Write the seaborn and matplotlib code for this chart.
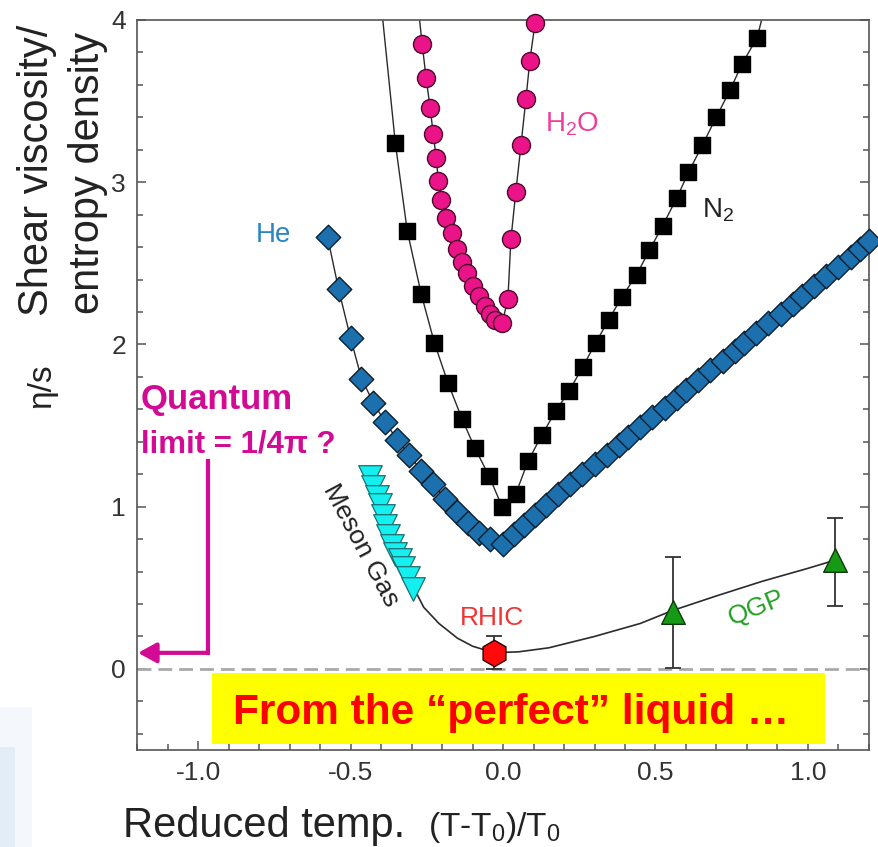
import matplotlib
matplotlib.use("Agg")
import matplotlib.pyplot as plt
from matplotlib.patches import Rectangle
from matplotlib.ticker import MultipleLocator, FormatStrFormatter
import seaborn as sns

# ---------------- data ----------------
# He (blue diamonds)
he_x = [-0.575, -0.539, -0.500, -0.464, -0.425, -0.386, -0.346, -0.307, -0.268, -0.229,
        -0.190, -0.150, -0.114, -0.078, -0.042, 0.0,
        0.035, 0.07, 0.105, 0.14, 0.18, 0.22, 0.26, 0.30, 0.34, 0.38,
        0.41, 0.45, 0.49, 0.53, 0.57, 0.60, 0.64, 0.68, 0.72, 0.76,
        0.79, 0.83, 0.87, 0.91, 0.95, 0.98, 1.02, 1.06, 1.10, 1.14, 1.17, 1.20]
he_y = [2.66, 2.34, 2.04, 1.79, 1.64, 1.52, 1.41, 1.32, 1.22, 1.14,
        1.05, 0.97, 0.90, 0.84, 0.80, 0.77,
        0.83, 0.89, 0.95, 1.01, 1.08, 1.14, 1.20, 1.26, 1.32, 1.38,
        1.43, 1.49, 1.55, 1.61, 1.67, 1.72, 1.78, 1.84, 1.90, 1.96,
        2.01, 2.07, 2.13, 2.19, 2.25, 2.30, 2.36, 2.42, 2.48, 2.54, 2.59, 2.64]

# N2 (black squares)
n2_x = [-0.353, -0.314, -0.268, -0.225, -0.180, -0.134, -0.092, -0.046, -0.003,
        0.042, 0.082, 0.127, 0.173, 0.216, 0.261, 0.304, 0.346, 0.389, 0.438,
        0.480, 0.523, 0.569, 0.608, 0.654, 0.699, 0.745, 0.784, 0.833]
n2_y = [3.24, 2.70, 2.31, 2.01, 1.76, 1.54, 1.36, 1.19, 1.00,
        1.08, 1.28, 1.44, 1.59, 1.71, 1.86, 2.01, 2.15, 2.29, 2.43,
        2.58, 2.73, 2.90, 3.06, 3.23, 3.40, 3.57, 3.73, 3.89]
n2_ends_x = [-0.405, 0.875]   # where the fitted line leaves the frame

# H2O (pink circles)
h2o_x = [-0.265, -0.252, -0.239, -0.229, -0.219, -0.212, -0.203, -0.186, -0.167, -0.150,
         -0.134, -0.118, -0.098, -0.078, -0.059, -0.042, -0.026, -0.003,
         0.016, 0.026, 0.042, 0.059, 0.075, 0.088, 0.105]
h2o_y = [3.85, 3.64, 3.46, 3.30, 3.15, 3.01, 2.89, 2.78, 2.69, 2.59,
         2.51, 2.44, 2.36, 2.30, 2.24, 2.19, 2.15, 2.13,
         2.28, 2.65, 2.94, 3.23, 3.51, 3.75, 3.98]
h2o_ends_x = [-0.285, 0.11]

# meson gas (cyan triangles)
meson_x = [-0.435, -0.425, -0.412, -0.402, -0.392, -0.386, -0.376, -0.363, -0.353,
           -0.337, -0.327, -0.310, -0.294]
meson_y = [1.18, 1.12, 1.06, 1.01, 0.94, 0.88, 0.82, 0.76, 0.71, 0.67, 0.62, 0.56, 0.49]

# RHIC point and QGP points with error bars
rhic_x = [-0.029]
rhic_y = [0.10]
rhic_err = [0.10]
qgp_x = [0.556, 1.088]
qgp_y = [0.35, 0.67]
qgp_lo = [0.345, 0.28]
qgp_hi = [0.34, 0.26]

# curve through meson gas, RHIC and QGP
curve_x = [-0.435, -0.40, -0.36, -0.33, -0.29, -0.26, -0.21, -0.15, -0.10, -0.03,
           0.05, 0.15, 0.30, 0.45, 0.556, 0.70, 0.85, 1.00, 1.088]
curve_y = [1.18, 1.00, 0.78, 0.64, 0.49, 0.38, 0.28, 0.19, 0.14, 0.10,
           0.105, 0.13, 0.20, 0.28, 0.36, 0.45, 0.54, 0.62, 0.67]

x_ticks = [-1.0, -0.5, 0.0, 0.5, 1.0]
y_ticks = [0, 1, 2, 3, 4]

# ---------------- style ----------------
sns.set_theme(style="ticks")
plt.rcParams["font.family"] = ["Liberation Sans", "DejaVu Sans"]
plt.rcParams["mathtext.fontset"] = "custom"
plt.rcParams["mathtext.rm"] = "Liberation Sans"
plt.rcParams["mathtext.it"] = "Liberation Sans"
plt.rcParams["axes.unicode_minus"] = False

magenta = "#d20a94"
line_col = "#2b2b2b"
top_y = 4.2

fig = plt.figure(figsize=(8.79, 8.47), dpi=100)
fig.patch.set_facecolor("white")
ax = fig.add_axes([0.1559, 0.1145, 0.8327, 0.8619])

# faint slide decoration in the lower left corner
fig.patches.append(Rectangle((0, 0), 32 / 879, 140 / 847, transform=fig.transFigure,
                             facecolor="#f4f8fd", edgecolor="none", zorder=0))
fig.patches.append(Rectangle((0, 0), 15 / 879, 100 / 847, transform=fig.transFigure,
                             facecolor="#e3edf8", edgecolor="none", zorder=0))

# zero line
ax.axhline(0, color="#a9a9a9", lw=2, dashes=(5, 2.5), zorder=1)

# connecting lines
sns.lineplot(x=he_x, y=he_y, ax=ax, color=line_col, lw=1, estimator=None, sort=False, zorder=2)
sns.lineplot(x=[n2_ends_x[0]] + n2_x + [n2_ends_x[1]], y=[top_y] + n2_y + [top_y], ax=ax,
             color=line_col, lw=1, estimator=None, sort=False, zorder=2)
sns.lineplot(x=[h2o_ends_x[0]] + h2o_x + [h2o_ends_x[1]], y=[top_y] + h2o_y + [top_y], ax=ax,
             color=line_col, lw=1, estimator=None, sort=False, zorder=2)
sns.lineplot(x=curve_x, y=curve_y, ax=ax, color=line_col, lw=1.2, estimator=None, sort=False, zorder=2)

# markers
sns.scatterplot(x=he_x, y=he_y, ax=ax, marker="D", s=12.5 ** 2, color="#1b70ad",
                edgecolor="#0b1f2e", linewidth=1, zorder=4, clip_on=False)
sns.scatterplot(x=n2_x, y=n2_y, ax=ax, marker="s", s=11.5 ** 2, color="black",
                edgecolor="black", linewidth=1, zorder=4, clip_on=False)
sns.scatterplot(x=h2o_x, y=h2o_y, ax=ax, marker="o", s=13 ** 2, color="#ea1488",
                edgecolor="#4a0a2a", linewidth=1, zorder=4, clip_on=False)
sns.scatterplot(x=meson_x, y=meson_y, ax=ax, marker="v", s=17 ** 2, color="#14f0f0",
                edgecolor="#1d6f72", linewidth=0.9, zorder=4, clip_on=False)

ax.errorbar(rhic_x, rhic_y, yerr=rhic_err, fmt="none", ecolor="#333333", elinewidth=1.3,
            capsize=6, capthick=1.3, zorder=5)
ax.errorbar(qgp_x, qgp_y, yerr=[qgp_lo, qgp_hi], fmt="none", ecolor="#333333", elinewidth=1.3,
            capsize=6, capthick=1.3, zorder=5)
sns.scatterplot(x=rhic_x, y=rhic_y, ax=ax, marker="h", s=19 ** 2, color="#ff0a0a",
                edgecolor="#2a0000", linewidth=1, zorder=6, clip_on=False)
sns.scatterplot(x=qgp_x, y=qgp_y, ax=ax, marker="^", s=17 ** 2, color="#169a16",
                edgecolor="#0b3a0b", linewidth=1, zorder=6, clip_on=False)

# series labels
ax.text(-0.81, 2.63, "He", color="#2a85c2", fontsize=20, ha="left", va="baseline")
ax.text(0.137, 3.31, "H$_2$O", color="#ef3f9a", fontsize=20, ha="left", va="baseline")
ax.text(0.653, 2.78, "N$_2$", color="#222222", fontsize=20, ha="left", va="baseline")
ax.text(-0.141, 0.27, "RHIC", color="#f03434", fontsize=19, ha="left", va="baseline")
ax.text(0.83, 0.377, "QGP", color="#22a022", fontsize=19, ha="center", va="center",
        rotation=22, rotation_mode="anchor")
ax.text(-0.467, 0.76, "Meson Gas", color="#222222", fontsize=19, ha="center", va="center",
        rotation=-62, rotation_mode="anchor")

# quantum limit annotation
ax.text(-1.188, 1.605, "Quantum", color=magenta, fontsize=25, fontweight="bold",
        ha="left", va="baseline")
ax.text(-1.188, 1.333, "limit = 1/4\u03c0 ?", color=magenta, fontsize=22.5, fontweight="bold",
        ha="left", va="baseline")
ax.plot([-0.967, -0.967], [1.284, 0.099], color=magenta, lw=3, solid_capstyle="projecting",
        zorder=3)
ax.annotate("", xy=(-1.197, 0.099), xytext=(-0.967, 0.099), annotation_clip=False,
            arrowprops=dict(arrowstyle="-|>,head_length=0.55,head_width=0.3", mutation_scale=20,
                            color=magenta, lw=3, shrinkA=0, shrinkB=0), zorder=3)

# yellow banner
ax.add_patch(Rectangle((-0.954, -0.463), 2.01, 0.438, facecolor="#ffff00",
                       edgecolor="none", zorder=3))
ax.text(0.026, -0.34, "From the \u201cperfect\u201d liquid \u2026", color="#ff0000", fontsize=30.5,
        fontweight="bold", ha="center", va="baseline", zorder=4)

# axes
ax.set_xlim(-1.2, 1.2)
ax.set_ylim(-0.5, 4)
ax.set_xticks(x_ticks)
ax.set_yticks(y_ticks)
ax.xaxis.set_major_formatter(FormatStrFormatter("%.1f"))
ax.xaxis.set_minor_locator(MultipleLocator(0.1))
ax.yaxis.set_minor_locator(MultipleLocator(0.2))
ax.tick_params(which="both", direction="in", right=True, top=False, color="#555555",
               width=1.1)
ax.tick_params(which="major", length=6.5, labelsize=19, labelcolor="#333333", pad=8)
ax.tick_params(which="minor", length=4)
ax.set_xlabel("")
ax.set_ylabel("")
for side in ax.spines.values():
    side.set_color("#555555")
    side.set_linewidth(1.2)
ax.spines["top"].set_visible(True)
ax.spines["right"].set_visible(True)

# axis titles
fig.text(37 / 879, 1 - 170 / 847, "Shear viscosity/", rotation=90, ha="center", va="center",
         fontsize=30, color="#222222")
fig.text(88 / 879, 1 - 173 / 847, "entropy density", rotation=90, ha="center", va="center",
         fontsize=30, color="#222222")
fig.text(42 / 879, 1 - 386 / 847, "\u03b7/s", rotation=90, ha="center", va="center",
         fontsize=24, color="#222222")
fig.text(123 / 879, 1 - 837 / 847, "Reduced temp.", ha="left", va="baseline",
         fontsize=30, color="#222222")
fig.text(428 / 879, 1 - 836 / 847, "(T-T$_{\\mathrm{0}}$)/T$_{\\mathrm{0}}$", ha="left",
         va="baseline", fontsize=24, color="#222222")

fig.savefig("out.png", dpi=100)
